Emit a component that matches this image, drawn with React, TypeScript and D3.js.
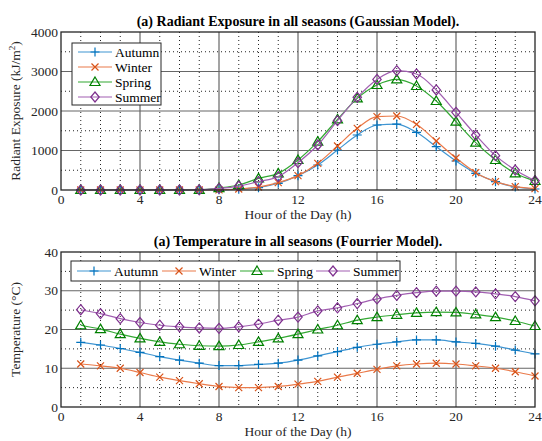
import React from "react";
import * as d3 from "d3";

const hours = d3.range(1, 25);
const seasons = ["Autumn", "Winter", "Spring", "Summer"];
const markerColors = ["#0072BD", "#D95319", "#008000", "#7E2F8E"];
const lineColors = ["#3f95d2", "#ea7a4a", "#33a833", "#a15fb1"];
const markerShapes = ["plus", "cross", "triangle", "diamond"];

const radAutumn = [0, 0, 0, 0, 0, 0, 0, 5, 20, 60, 170, 363, 633, 1013, 1392, 1646, 1670, 1460, 1097, 734, 422, 211, 76, 25];
const radWinter = [0, 0, 0, 0, 0, 0, 0, 5, 25, 75, 186, 363, 675, 1114, 1561, 1857, 1873, 1662, 1240, 810, 439, 211, 84, 34];
const radSpring = [0, 0, 0, 0, 0, 0, 5, 50, 127, 295, 422, 760, 1224, 1789, 2320, 2658, 2800, 2633, 2253, 1730, 1198, 760, 422, 228];
const radSummer = [0, 0, 0, 0, 0, 0, 5, 40, 100, 211, 338, 692, 1139, 1755, 2346, 2800, 3021, 2937, 2532, 1966, 1392, 869, 506, 236];

const tempAutumn = [16.7, 16.0, 15.1, 14.1, 13.0, 12.1, 11.3, 10.7, 10.7, 11.0, 11.3, 12.1, 13.2, 14.3, 15.4, 16.2, 16.8, 17.3, 17.3, 16.8, 16.4, 15.7, 14.7, 13.7];
const tempWinter = [11.1, 10.6, 10.0, 8.9, 7.7, 6.8, 6.0, 5.3, 5.0, 5.0, 5.3, 5.9, 6.6, 7.7, 8.7, 9.7, 10.6, 11.1, 11.3, 11.1, 10.6, 10.0, 9.1, 8.0];
const tempSpring = [21.1, 20.1, 18.8, 17.7, 16.8, 16.2, 15.8, 15.7, 16.0, 16.8, 17.7, 18.8, 20.0, 21.1, 22.4, 23.2, 23.8, 24.3, 24.5, 24.4, 23.9, 23.2, 22.2, 20.9];
const tempSummer = [25.1, 24.1, 22.8, 21.8, 21.1, 20.7, 20.4, 20.3, 20.7, 21.4, 22.4, 23.2, 24.8, 25.6, 26.7, 27.9, 28.8, 29.5, 29.9, 29.9, 29.7, 29.2, 28.5, 27.4];

const xTicks = [0, 4, 8, 12, 16, 20, 24];
const radTicks = [0, 1000, 2000, 3000, 4000];
const tempTicks = [0, 10, 20, 30, 40];

const FONT = "Liberation Serif, Tinos, Times New Roman, Times, DejaVu Serif, serif";

function Marker({ shape, x, y, color }: { shape: string; x: number; y: number; color: string }) {
  const s = 4.5;
  if (shape === "plus")
    return <path d={`M${x - s},${y}H${x + s}M${x},${y - s}V${y + s}`} stroke={color} strokeWidth={1.2} fill="none" />;
  if (shape === "cross") {
    const c = 3.5;
    return <path d={`M${x - c},${y - c}L${x + c},${y + c}M${x - c},${y + c}L${x + c},${y - c}`} stroke={color} strokeWidth={1.2} fill="none" />;
  }
  if (shape === "triangle")
    return <path d={`M${x},${y - 5}L${x + 5},${y + 3.5}L${x - 5},${y + 3.5}Z`} stroke={color} strokeWidth={1.2} fill="none" />;
  return <path d={`M${x},${y - 5}L${x + 4.2},${y}L${x},${y + 5}L${x - 4.2},${y}Z`} stroke={color} strokeWidth={1.2} fill="none" />;
}

type PanelProps = {
  top: number;
  bottom: number;
  yMax: number;
  yTicks: number[];
  yMinorStep: number;
  series: number[][];
  title: string;
  yLabel: React.ReactNode;
  legend: "vertical" | "horizontal";
};

const LEFT = 61;
const RIGHT = 535;

function Panel({ top, bottom, yMax, yTicks, yMinorStep, series, title, yLabel, legend }: PanelProps) {
  const x = d3.scaleLinear().domain([0, 24]).range([LEFT, RIGHT]);
  const y = d3.scaleLinear().domain([0, yMax]).range([bottom, top]);
  const line = d3.line<number>().x((_, i) => x(hours[i])).y((d) => y(d)).curve(d3.curveMonotoneX);
  const minorX = d3.range(0, 25).filter((h) => h % 4 !== 0);
  const minorY = d3.range(0, yMax + 0.001, yMinorStep).filter((v) => !yTicks.includes(v));
  const cx = (LEFT + RIGHT) / 2;
  return (
    <g>
      <rect x={LEFT} y={top} width={RIGHT - LEFT} height={bottom - top} fill="#fff" />
      {minorX.map((h) => (
        <line key={"mx" + h} x1={x(h)} x2={x(h)} y1={top} y2={bottom} stroke="#222" strokeWidth={1} strokeDasharray="1 3" />
      ))}
      {minorY.map((v) => (
        <line key={"my" + v} x1={LEFT} x2={RIGHT} y1={y(v)} y2={y(v)} stroke="#222" strokeWidth={1} strokeDasharray="1 3" />
      ))}
      {xTicks.slice(1, -1).map((h) => (
        <line key={"gx" + h} x1={x(h)} x2={x(h)} y1={top} y2={bottom} stroke="#666" strokeWidth={1.2} />
      ))}
      {yTicks.slice(1, -1).map((v) => (
        <line key={"gy" + v} x1={LEFT} x2={RIGHT} y1={y(v)} y2={y(v)} stroke="#666" strokeWidth={1.2} />
      ))}
      {series.map((s, k) => (
        <g key={"s" + k}>
          <path d={line(s) || ""} fill="none" stroke={lineColors[k]} strokeWidth={1.2} />
          {s.map((v, i) => (
            <Marker key={i} shape={markerShapes[k]} x={x(hours[i])} y={y(v)} color={markerColors[k]} />
          ))}
        </g>
      ))}
      <rect x={LEFT} y={top} width={RIGHT - LEFT} height={bottom - top} fill="none" stroke="#262626" strokeWidth={1.3} />
      {xTicks.map((h) => (
        <text key={"tx" + h} x={x(h)} y={bottom + 14} textAnchor="middle" fontSize={13.5} fontFamily={FONT} fill="#262626">
          {h}
        </text>
      ))}
      {yTicks.map((v) => (
        <text key={"ty" + v} x={LEFT - 3} y={y(v) + 4.5} textAnchor="end" fontSize={13.5} fontFamily={FONT} fill="#262626">
          {v}
        </text>
      ))}
      <text x={cx} y={bottom + 29} textAnchor="middle" fontSize={13.5} fontFamily={FONT} fill="#262626">
        Hour of the Day (h)
      </text>
      <text x={cx} y={top - 6} textAnchor="middle" fontSize={14} fontWeight="bold" fontFamily={FONT} fill="#000">
        {title}
      </text>
      <text transform={`translate(${20},${(top + bottom) / 2}) rotate(-90)`} textAnchor="middle" fontSize={13.5} fontFamily={FONT} fill="#262626">
        {yLabel}
      </text>
      {legend === "vertical" ? (
        <g>
          <rect x={72} y={43} width={89} height={62} fill="#fff" stroke="#262626" strokeWidth={1} />
          {seasons.map((name, k) => {
            const ly = 52 + k * 15;
            return (
              <g key={name}>
                <line x1={78} x2={112} y1={ly} y2={ly} stroke={lineColors[k]} strokeWidth={1.2} />
                <Marker shape={markerShapes[k]} x={95} y={ly} color={markerColors[k]} />
                <text x={115} y={ly + 4.5} fontSize={13.5} fontFamily={FONT} fill="#000">
                  {name}
                </text>
              </g>
            );
          })}
        </g>
      ) : (
        <g>
          <rect x={71} y={261} width={329} height={20} fill="#fff" stroke="#262626" strokeWidth={1} />
          {seasons.map((name, k) => {
            const offs = [77, 162, 240, 316];
            const lx = offs[k];
            const ly = 271;
            return (
              <g key={name}>
                <line x1={lx} x2={lx + 34} y1={ly} y2={ly} stroke={lineColors[k]} strokeWidth={1.2} />
                <Marker shape={markerShapes[k]} x={lx + 17} y={ly} color={markerColors[k]} />
                <text x={lx + 37} y={ly + 4.5} fontSize={13.5} fontFamily={FONT} fill="#000">
                  {name}
                </text>
              </g>
            );
          })}
        </g>
      )}
    </g>
  );
}

export default function App() {
  return (
    <svg width={542} height={441} style={{ position: "absolute", left: 0, top: 0, background: "#fff" }}>
      <rect width={542} height={441} fill="#fff" />
      <Panel
        top={32}
        bottom={190}
        yMax={4000}
        yTicks={radTicks}
        yMinorStep={500}
        series={[radAutumn, radWinter, radSpring, radSummer]}
        title="(a) Radiant Exposure in all seasons (Gaussian Model)."
        yLabel={
          <>
            Radiant Exposure (kJ/m
            <tspan dy={-5} fontSize={9}>2</tspan>
            <tspan dy={5}>)</tspan>
          </>
        }
        legend="vertical"
      />
      <Panel
        top={252}
        bottom={407}
        yMax={40}
        yTicks={tempTicks}
        yMinorStep={5}
        series={[tempAutumn, tempWinter, tempSpring, tempSummer]}
        title="(a) Temperature in all seasons (Fourrier Model)."
        yLabel="Temperature (°C)"
        legend="horizontal"
      />
    </svg>
  );
}
